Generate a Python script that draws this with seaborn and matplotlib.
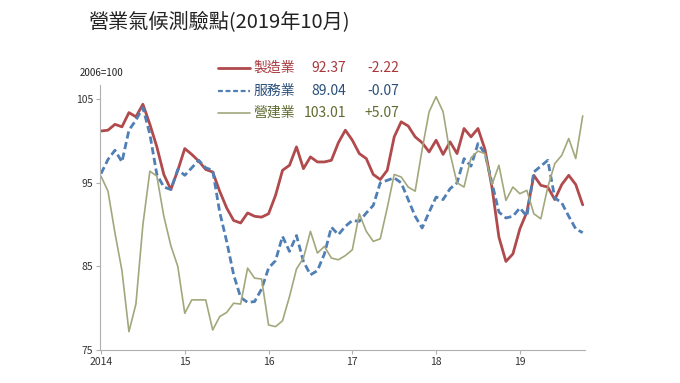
import numpy as np
import pandas as pd
import seaborn as sns
import matplotlib
matplotlib.use("Agg")
import matplotlib.pyplot as plt
from matplotlib.lines import Line2D

series_names = ["製造業", "服務業", "營建業"]
latest_values = ["92.37", "89.04", "103.01"]
latest_changes = ["-2.22", "-0.07", "+5.07"]
year_labels = ["2014", "15", "16", "17", "18", "19"]

manufacturing = [101.2, 101.3, 102.0, 101.7, 103.4, 102.9, 104.4, 102.0, 99.3, 96.0,
                 94.2, 96.5, 99.1, 98.4, 97.6, 96.6, 96.3, 94.0, 92.0, 90.5,
                 90.2, 91.4, 91.0, 90.9, 91.3, 93.5, 96.5, 97.1, 99.3, 96.7,
                 98.1, 97.5, 97.5, 97.7, 99.8, 101.3, 100.1, 98.5, 97.9, 96.0,
                 95.4, 96.5, 100.5, 102.3, 101.8, 100.5, 99.8, 98.7, 100.1, 98.4,
                 99.9, 98.5, 101.5, 100.5, 101.5, 99.0, 94.5, 88.5, 85.6, 86.5,
                 89.5, 91.5, 95.9, 94.7, 94.5, 93.0, 94.8, 95.9, 94.8, 92.37]
services = [96.1, 97.8, 98.9, 97.5, 101.3, 102.5, 104.0, 100.8, 96.0, 94.5,
            94.2, 96.6, 95.9, 96.8, 97.7, 96.8, 96.5, 91.5, 88.0, 84.0,
            81.3, 80.7, 80.8, 82.3, 84.8, 85.7, 88.6, 86.8, 88.7, 85.6,
            84.0, 84.5, 86.5, 89.7, 88.8, 89.8, 90.5, 90.4, 91.4, 92.3,
            95.0, 95.3, 95.6, 95.0, 93.0, 91.0, 89.6, 91.5, 93.3, 93.0,
            94.3, 95.0, 97.9, 97.0, 99.7, 98.5, 95.0, 91.5, 90.8, 91.0,
            92.0, 91.0, 96.3, 97.0, 97.7, 93.2, 92.6, 91.0, 89.5, 89.04]
construction = [95.8, 94.0, 89.0, 84.5, 77.2, 80.5, 90.0, 96.4, 95.8, 91.0,
                87.5, 85.0, 79.4, 81.0, 81.0, 81.0, 77.4, 79.0, 79.5, 80.6,
                80.5, 84.8, 83.6, 83.5, 78.0, 77.8, 78.5, 81.4, 84.7, 86.0,
                89.2, 86.6, 87.4, 86.0, 85.8, 86.3, 87.0, 91.3, 89.2, 88.0,
                88.3, 92.0, 96.0, 95.7, 94.5, 94.0, 99.0, 103.5, 105.3, 103.5,
                98.5, 95.0, 94.5, 98.0, 98.8, 98.5, 94.8, 97.1, 92.9, 94.5,
                93.7, 94.1, 91.3, 90.7, 94.5, 97.3, 98.3, 100.3, 97.9, 103.01]

months = np.arange(len(manufacturing))
df = pd.DataFrame({
    "month": np.tile(months, 3),
    "value": manufacturing + services + construction,
    "series": np.repeat(series_names, len(months)),
})

sns.set_theme(style="white")
plt.rcParams["font.family"] = ["Noto Sans CJK TC", "DejaVu Sans"]

line_colors = {"製造業": "#B04A4C", "服務業": "#4F7FB5", "營建業": "#A3A77C"}
text_colors = ["#A8383D", "#2A4E7A", "#5E6B30"]

fig = plt.figure(figsize=(6.8, 3.83), dpi=100)
ax = fig.add_axes([0.147, 0.086, 0.713, 0.692])

sns.lineplot(data=df, x="month", y="value", hue="series", style="series",
             palette=line_colors,
             dashes={"製造業": "", "服務業": (2.6, 1.3), "營建業": ""},
             legend=False, ax=ax)
lw = {"製造業": 2.0, "服務業": 2.0, "營建業": 1.2}
for line, name in zip(ax.get_lines(), series_names):
    line.set_linewidth(lw[name])

ax.set_xlim(-0.15, 69.3)
ax.set_ylim(75, 106.7)
ax.set_yticks([75, 85, 95, 105])
ax.set_xticks([0, 12, 24, 36, 48, 60])
ax.set_xticklabels(year_labels)
ax.set_xlabel("")
ax.set_ylabel("")
for s in ["top", "right"]:
    ax.spines[s].set_visible(False)
for s in ["left", "bottom"]:
    ax.spines[s].set_color("#B0B0B0")
    ax.spines[s].set_linewidth(0.8)
ax.tick_params(axis="both", labelsize=7.5, colors="#333333", length=3,
               width=0.8, direction="out", pad=2)
ax.tick_params(axis="both", color="#B0B0B0")
ax.tick_params(axis="both", which="both", left=True, bottom=True)

fig.text(88/680, 1 - 22/383, "營業氣候測驗點(2019年10月)", fontsize=14.5,
         color="#222222", va="center", ha="left")
fig.text(80/680, 1 - 73/383, "2006=100", fontsize=7, color="#222222",
         va="center", ha="left")

rows_y = [68, 91, 113]
dash_styles = ["-", (0, (2.2, 1.2)), "-"]
leg_lw = [2.0, 1.6, 1.2]
for i, name in enumerate(series_names):
    yf = 1 - rows_y[i] / 383
    fig.add_artist(Line2D([218/680, 250/680], [yf, yf], transform=fig.transFigure,
                          color=line_colors[name], linestyle=dash_styles[i],
                          linewidth=leg_lw[i]))
    fig.text(253/680, yf, name, fontsize=10, color=text_colors[i], va="center", ha="left")
    fig.text(346/680, yf, latest_values[i], fontsize=10, color=text_colors[i],
             va="center", ha="right")
    fig.text(399/680, yf, latest_changes[i], fontsize=10, color=text_colors[i],
             va="center", ha="right")

fig.savefig("out.png", dpi=100)
